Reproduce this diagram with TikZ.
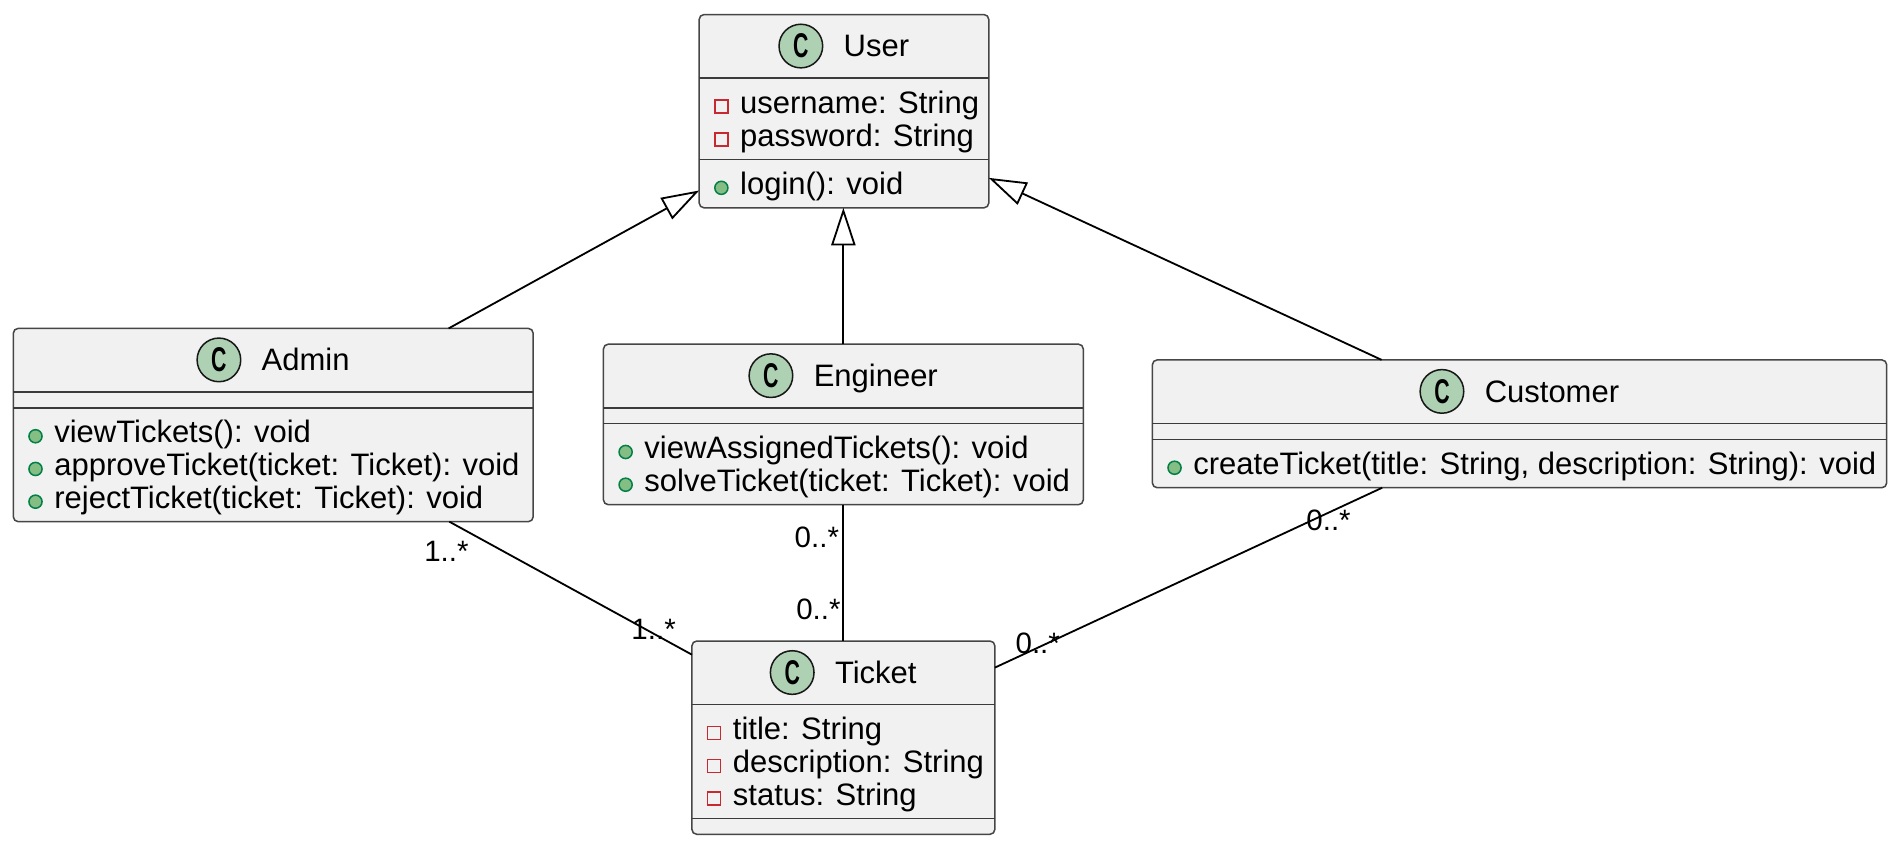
\documentclass[tikz,border=0pt]{standalone}
\usepackage{fontspec}
\setmainfont{Liberation Sans}
\usepackage{graphicx}
\usetikzlibrary{arrows.meta,calc}
\definecolor{boxfill}{HTML}{F1F1F1}
\definecolor{boxline}{HTML}{181818}
\definecolor{cfill}{HTML}{ADD1B2}
\definecolor{pubfill}{HTML}{84BE84}
\definecolor{publine}{HTML}{038048}
\definecolor{privline}{HTML}{C82930}
\newcommand\classbox[5]{%
  \node[box, minimum width={(#4-#2)*0.6pt}, minimum height={(#5-#3)*0.6pt}] (#1) at ({(#2+#4)/2},{(#3+#5)/2}) {};}
\newcommand\classtitle[4]{%
  \node[ttl] (#1T) at ({#2+26.75},{#3+34.8}) {#4};
  \node[cicon] (#1C) at ($(#1T.base west)+(-35,-8.8)$) {\scalebox{0.62}[1]{C}};}
\newcommand\member[5]{%
  \node[#2] (#1i) at ({#3+18.3},{#4-5.5}) {};
  \node[mem] (#1) at ({#3+33.5},#4) {#5};}
\newcommand\divline[3]{\draw[divider] (#1,#3) -- (#2,#3);}
\begin{document}
\begin{tikzpicture}[x=0.6pt,y=-0.6pt,
  box/.style={draw=boxline!80, fill=boxfill, line width=0.75pt, rounded corners=2.4pt, inner sep=0pt, outer sep=0pt},
  divider/.style={draw=boxline!85, line width=0.75pt},
  ttl/.style={inner sep=0pt, anchor=base, font=\fontsize{15.35pt}{16pt}\selectfont},
  mem/.style={inner sep=0pt, anchor=base west, font=\fontsize{15.35pt}{16pt}\selectfont},
  cicon/.style={circle, draw=boxline, fill=cfill, line width=0.75pt, minimum size=21.6pt, inner sep=0pt, font=\bfseries\fontsize{17pt}{17pt}\selectfont},
  priv/.style={rectangle, draw=privline, line width=0.75pt, minimum size=6.4pt, inner sep=0pt},
  pub/.style={circle, draw=publine, fill=pubfill, line width=0.75pt, minimum size=6.5pt, inner sep=0pt},
  mult/.style={inner sep=0pt, anchor=base east, font=\fontsize{14.6pt}{15pt}\selectfont},
  edge/.style={draw=black, line width=0.9pt},
  gen/.style={edge, -{Triangle[open, length=18.6pt, width=12pt]}},
]
\fill[white] (0,0) rectangle (1568,700);
\useasboundingbox (0,0) rectangle (1568,700);

% User
\classbox{user}{577}{12}{816}{171.5}
\classtitle{user}{696.5}{12}{User}
\divline{577}{816}{64.5}
\member{userA}{priv}{577}{93.5}{username: String}
\member{userB}{priv}{577}{120.5}{password: String}
\divline{577}{816}{131.5}
\member{userM}{pub}{577}{160.5}{login(): void}

% Admin
\classbox{admin}{11}{271}{440}{430.5}
\classtitle{admin}{225.5}{271}{Admin}
\divline{11}{440}{323.5}
\divline{11}{440}{336.5}
\member{adminA}{pub}{11}{365.5}{viewTickets(): void}
\member{adminB}{pub}{11}{392.5}{approveTicket(ticket: Ticket): void}
\member{adminC}{pub}{11}{419.5}{rejectTicket(ticket: Ticket): void}

% Engineer
\classbox{engineer}{498}{284}{894}{416.5}
\classtitle{engineer}{696}{284}{Engineer}
\divline{498}{894}{336.5}
\divline{498}{894}{349.5}
\member{engA}{pub}{498}{378.5}{viewAssignedTickets(): void}
\member{engB}{pub}{498}{405.5}{solveTicket(ticket: Ticket): void}

% Customer
\classbox{customer}{951}{297}{1557}{402.5}
\classtitle{customer}{1254}{297}{Customer}
\divline{951}{1557}{349.5}
\divline{951}{1557}{362.5}
\member{custA}{pub}{951}{391.5}{createTicket(title: String, description: String): void}

% Ticket
\classbox{ticket}{571}{529}{821}{688.5}
\classtitle{ticket}{696}{529}{Ticket}
\divline{571}{821}{581.5}
\member{tickA}{priv}{571}{610.5}{title: String}
\member{tickB}{priv}{571}{637.5}{description: String}
\member{tickC}{priv}{571}{664.5}{status: String}
\divline{571}{821}{675.5}

% connectors
\draw[gen] (admin) -- (user);
\draw[gen] (engineer.north) -- (engineer.north |- user.south);
\draw[gen] (customer) -- (user);
\draw[edge] (admin) -- (ticket);
\draw[edge] (engineer.south) -- (engineer.south |- ticket.north);
\draw[edge] (customer) -- (ticket);

% multiplicities
\node[mult] (m1) at (387,463) {1..*};
\node[mult] (m2) at (558,527.5) {1..*};
\node[mult] (m3) at (692.7,451.5) {0..*};
\node[mult] (m4) at (694,511.5) {0..*};
\node[mult] (m5) at (1115,437.5) {0..*};
\node[mult] (m6) at (875,539) {0..*};
\end{tikzpicture}
\end{document}
